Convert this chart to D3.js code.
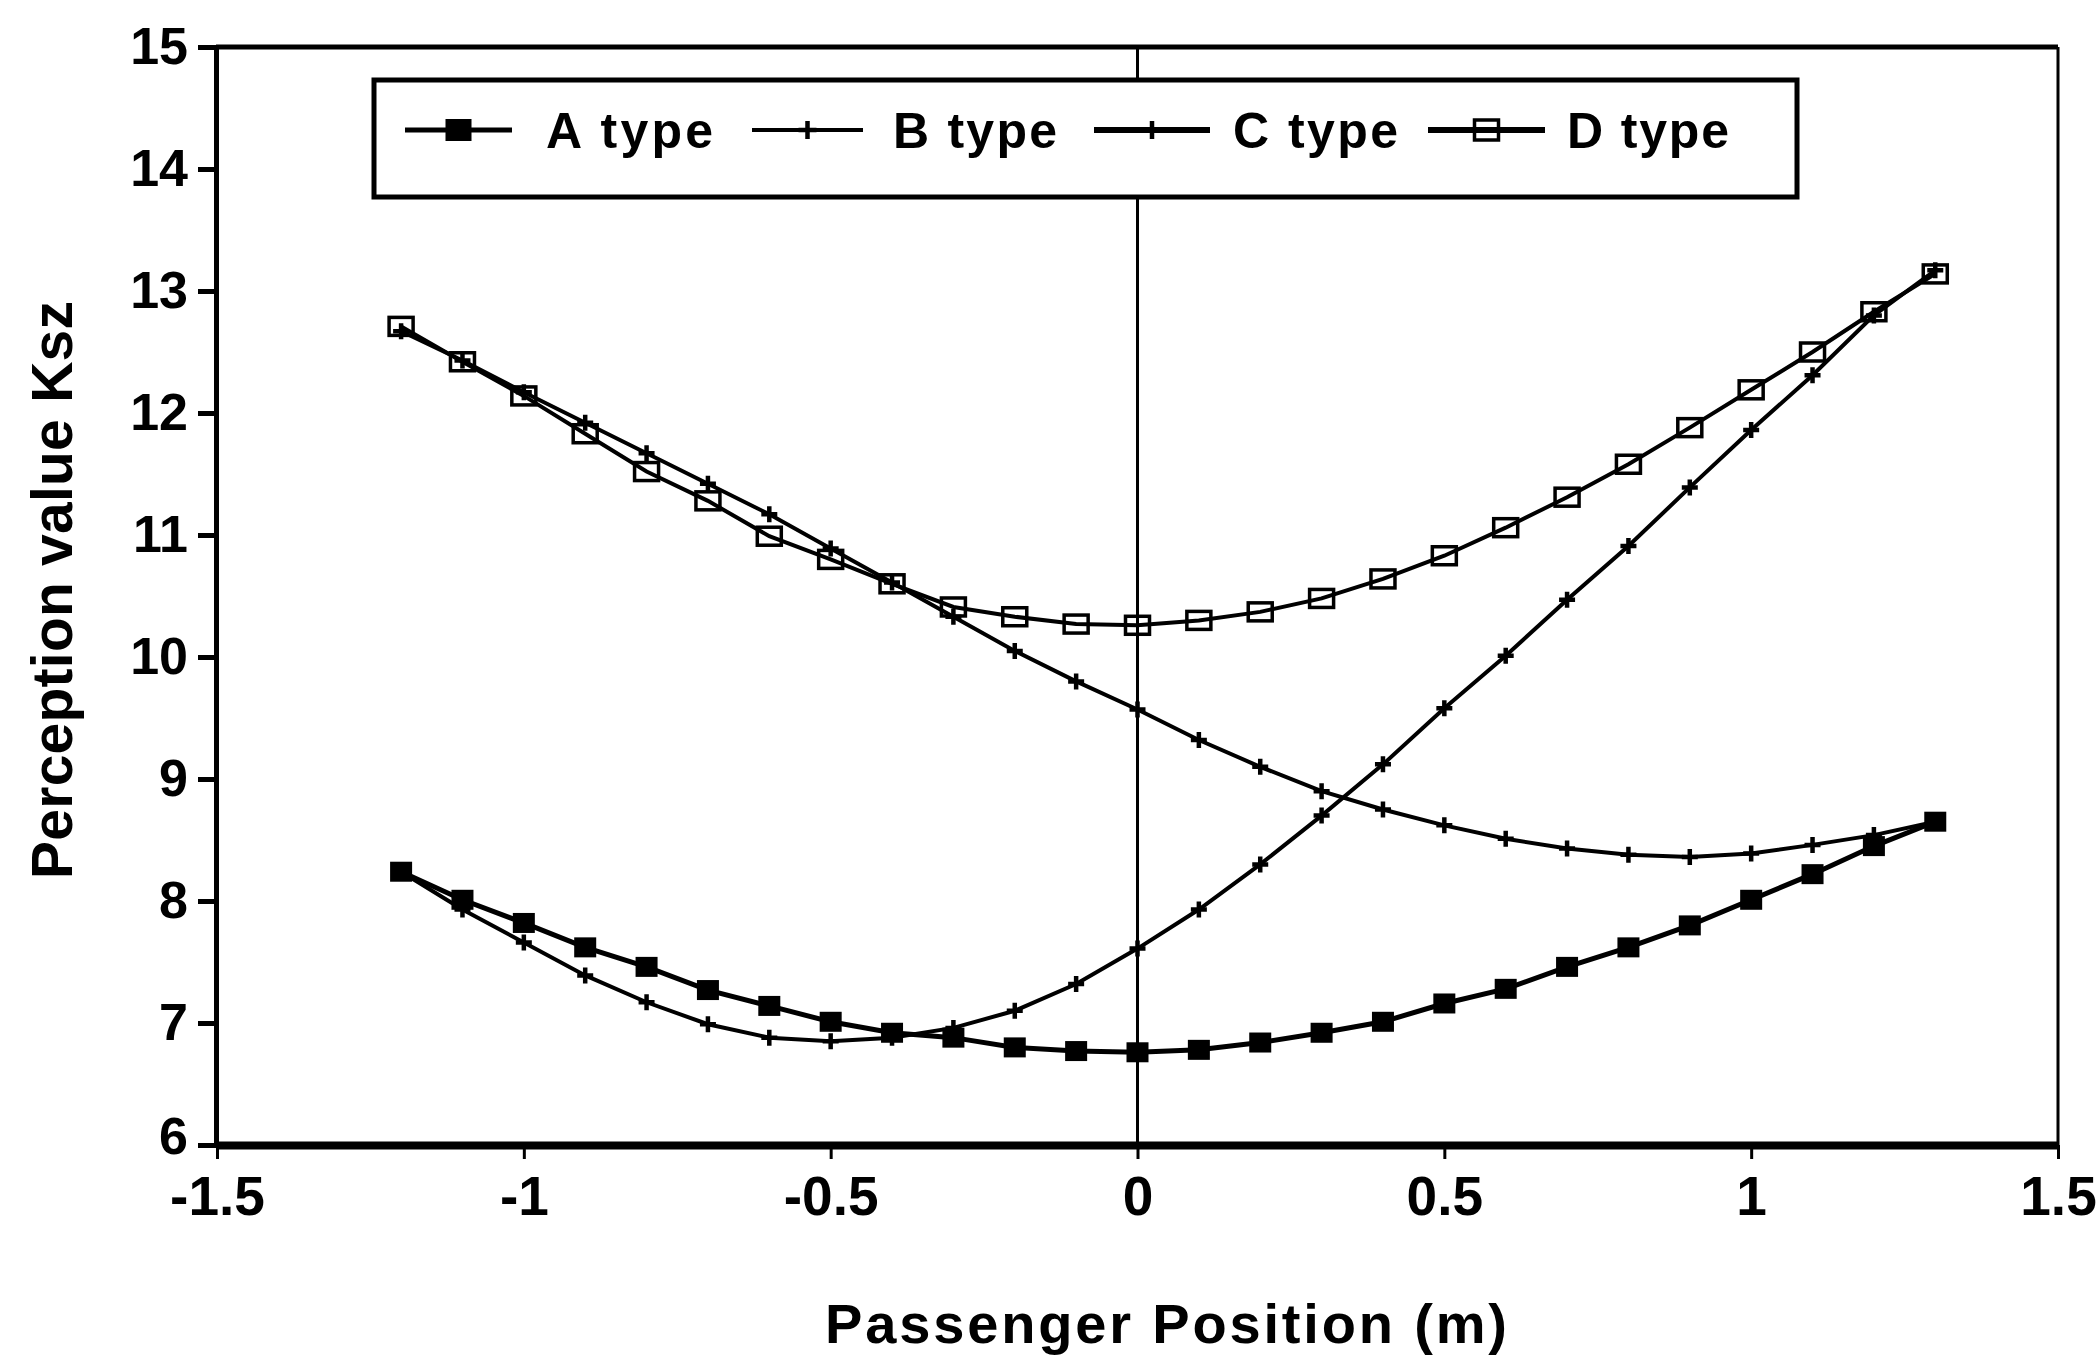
<!DOCTYPE html>
<html>
<head>
<meta charset="utf-8">
<script src="https://cdn.jsdelivr.net/npm/d3@7"></script>
<style>
  body { margin: 0; background: #fff; }
  text { font-family: "Liberation Sans", Arial, sans-serif; fill: #000; font-weight: bold; }
</style>
</head>
<body>
<svg id="chart" width="2097" height="1357"></svg>
<script>
// Passenger positions across the car body (m)
const positions = [-1.2, -1.1, -1.0, -0.9, -0.8, -0.7, -0.6, -0.5, -0.4, -0.3, -0.2, -0.1, 0,
                   0.1, 0.2, 0.3, 0.4, 0.5, 0.6, 0.7, 0.8, 0.9, 1.0, 1.1, 1.2, 1.3];

// Perception value Ksz for each vehicle type
const typeA = [8.24, 8.01, 7.82, 7.62, 7.46, 7.27, 7.14, 7.01, 6.92, 6.88, 6.80, 6.77, 6.76,
               6.78, 6.84, 6.92, 7.01, 7.16, 7.28, 7.46, 7.62, 7.80, 8.01, 8.22, 8.45, 8.65];
const typeB = [12.67, 12.43, 12.17, 11.92, 11.67, 11.42, 11.17, 10.89, 10.61, 10.33, 10.05, 9.80, 9.57,
               9.32, 9.10, 8.90, 8.75, 8.62, 8.51, 8.43, 8.38, 8.36, 8.39, 8.46, 8.54, 8.65];
const typeC = [8.24, 7.93, 7.66, 7.39, 7.17, 6.99, 6.88, 6.85, 6.88, 6.96, 7.10, 7.32, 7.61,
               7.93, 8.30, 8.70, 9.12, 9.58, 10.01, 10.47, 10.91, 11.39, 11.86, 12.31, 12.80, 13.17];
const typeD = [12.71, 12.42, 12.14, 11.83, 11.52, 11.28, 10.99, 10.80, 10.60, 10.41, 10.33, 10.27, 10.26,
               10.30, 10.37, 10.48, 10.64, 10.83, 11.06, 11.31, 11.58, 11.88, 12.19, 12.50, 12.83, 13.14];

const seriesNames = ["A type", "B type", "C type", "D type"];

// Axis ticks and labels
const xTicks = [-1.5, -1, -0.5, 0, 0.5, 1, 1.5];
const xTickLabels = ["-1.5", "-1", "-0.5", "0", "0.5", "1", "1.5"];
const yTicks = [6, 7, 8, 9, 10, 11, 12, 13, 14, 15];
const yTickLabels = ["6", "7", "8", "9", "10", "11", "12", "13", "14", "15"];

const xTitle = "Passenger Position (m)";
const yTitle = "Perception value Ksz";

// ---- layout ----
const plot = { left: 216, right: 2058, top: 47, bottom: 1145 };
const svg = d3.select("#chart");

const x = d3.scaleLinear().domain([-1.5, 1.5]).range([plot.left + 1, plot.right]);
const y = d3.scaleLinear().domain([6, 15]).range([plot.bottom, plot.top]);

// frame: top and right edges
svg.append("line").attr("x1", plot.left).attr("x2", plot.right)
  .attr("y1", plot.top).attr("y2", plot.top)
  .attr("stroke", "#000").attr("stroke-width", 5);
svg.append("line").attr("x1", plot.right).attr("x2", plot.right)
  .attr("y1", plot.top).attr("y2", plot.bottom)
  .attr("stroke", "#000").attr("stroke-width", 3);

// vertical reference line at x = 0
svg.append("line").attr("x1", x(0)).attr("x2", x(0))
  .attr("y1", plot.top).attr("y2", plot.bottom)
  .attr("stroke", "#000").attr("stroke-width", 3);

// x axis
const gx = svg.append("g").attr("transform", `translate(0,${plot.bottom})`)
  .call(d3.axisBottom(x).tickValues(xTicks)
    .tickFormat((d, i) => xTickLabels[i]).tickSize(14).tickSizeOuter(0).tickPadding(17));
gx.select(".domain").attr("stroke-width", 8);
gx.selectAll(".tick line").attr("stroke-width", 3);
gx.selectAll(".tick text").style("font-size", "55px").attr("font-family", null);

// y axis
const gy = svg.append("g").attr("transform", `translate(${plot.left},0)`)
  .call(d3.axisLeft(y).tickValues(yTicks)
    .tickFormat((d, i) => yTickLabels[i]).tickSize(18).tickSizeOuter(0).tickPadding(10));
gy.select(".domain").attr("stroke-width", 5);
gy.selectAll(".tick line").attr("stroke-width", 5);
gy.selectAll(".tick text").style("font-size", "52px").attr("font-family", null);
// lift the lowest label a little so it clears the x-axis labels at the corner
gy.selectAll(".tick text").filter(d => d === yTicks[0]).attr("y", -8);

// axis titles
svg.append("text").attr("x", 1166).attr("y", 1343)
  .attr("text-anchor", "middle").style("font-size", "56px")
  .attr("textLength", 682).attr("lengthAdjust", "spacing")
  .text(xTitle);
svg.append("text").attr("transform", "translate(72,590) rotate(-90)")
  .attr("text-anchor", "middle").style("font-size", "57px")
  .attr("textLength", 578).attr("lengthAdjust", "spacing")
  .text(yTitle);

// ---- series ----
const line = d3.line().x(d => x(d[0])).y(d => y(d[1]));
const pairs = vals => positions.map((p, i) => [p, vals[i]]);

const plusPath = s => `M${-s},0H${s}M0,${-s}V${s}`;

function drawSeries(vals, opts) {
  const g = svg.append("g");
  g.append("path").datum(pairs(vals)).attr("d", line)
    .attr("fill", "none").attr("stroke", "#000").attr("stroke-width", opts.width);
  const pts = g.selectAll(".m").data(pairs(vals)).enter();
  if (opts.marker === "filled") {
    pts.append("rect").attr("x", d => x(d[0]) - 11).attr("y", d => y(d[1]) - 10)
      .attr("width", 22).attr("height", 20).attr("fill", "#000");
  } else if (opts.marker === "open") {
    pts.append("rect").attr("x", d => x(d[0]) - 12).attr("y", d => y(d[1]) - 9)
      .attr("width", 24).attr("height", 18).attr("fill", "none")
      .attr("stroke", "#000").attr("stroke-width", 3.5);
  } else {
    pts.append("path").attr("transform", d => `translate(${x(d[0])},${y(d[1])})`)
      .attr("d", plusPath(8)).attr("stroke", "#000").attr("stroke-width", 4.5);
  }
}

drawSeries(typeD, { width: 4, marker: "open" });
drawSeries(typeB, { width: 4, marker: "plus" });
drawSeries(typeC, { width: 4, marker: "plus" });
drawSeries(typeA, { width: 5, marker: "filled" });

// ---- legend ----
const legend = svg.append("g");
legend.append("rect").attr("x", 374).attr("y", 80).attr("width", 1423).attr("height", 117)
  .attr("fill", "#fff").attr("stroke", "#000").attr("stroke-width", 5);

const legendItems = [
  { name: seriesNames[0], x0: 405, x1: 512, tx: 546, tl: 167, marker: "filled", w: 5 },
  { name: seriesNames[1], x0: 752, x1: 863, tx: 893, tl: 164, marker: "plus", w: 4 },
  { name: seriesNames[2], x0: 1094, x1: 1210, tx: 1233, tl: 165, marker: "plus", w: 6 },
  { name: seriesNames[3], x0: 1428, x1: 1545, tx: 1567, tl: 162, marker: "open", w: 6 }
];
const ly = 130;
legendItems.forEach(it => {
  legend.append("line").attr("x1", it.x0).attr("x2", it.x1).attr("y1", ly).attr("y2", ly)
    .attr("stroke", "#000").attr("stroke-width", it.w);
  const cx = (it.x0 + it.x1) / 2;
  if (it.marker === "filled") {
    legend.append("rect").attr("x", cx - 13).attr("y", ly - 11).attr("width", 26).attr("height", 22).attr("fill", "#000");
  } else if (it.marker === "open") {
    legend.append("rect").attr("x", cx - 12).attr("y", ly - 10).attr("width", 24).attr("height", 20)
      .attr("fill", "none").attr("stroke", "#000").attr("stroke-width", 3.5);
  } else {
    legend.append("path").attr("transform", `translate(${cx},${ly})`).attr("d", plusPath(9))
      .attr("stroke", "#000").attr("stroke-width", 4.5);
  }
  legend.append("text").attr("x", it.tx).attr("y", ly + 18)
    .style("font-size", "50px").attr("textLength", it.tl).attr("lengthAdjust", "spacing")
    .text(it.name);
});
</script>
</body>
</html>
